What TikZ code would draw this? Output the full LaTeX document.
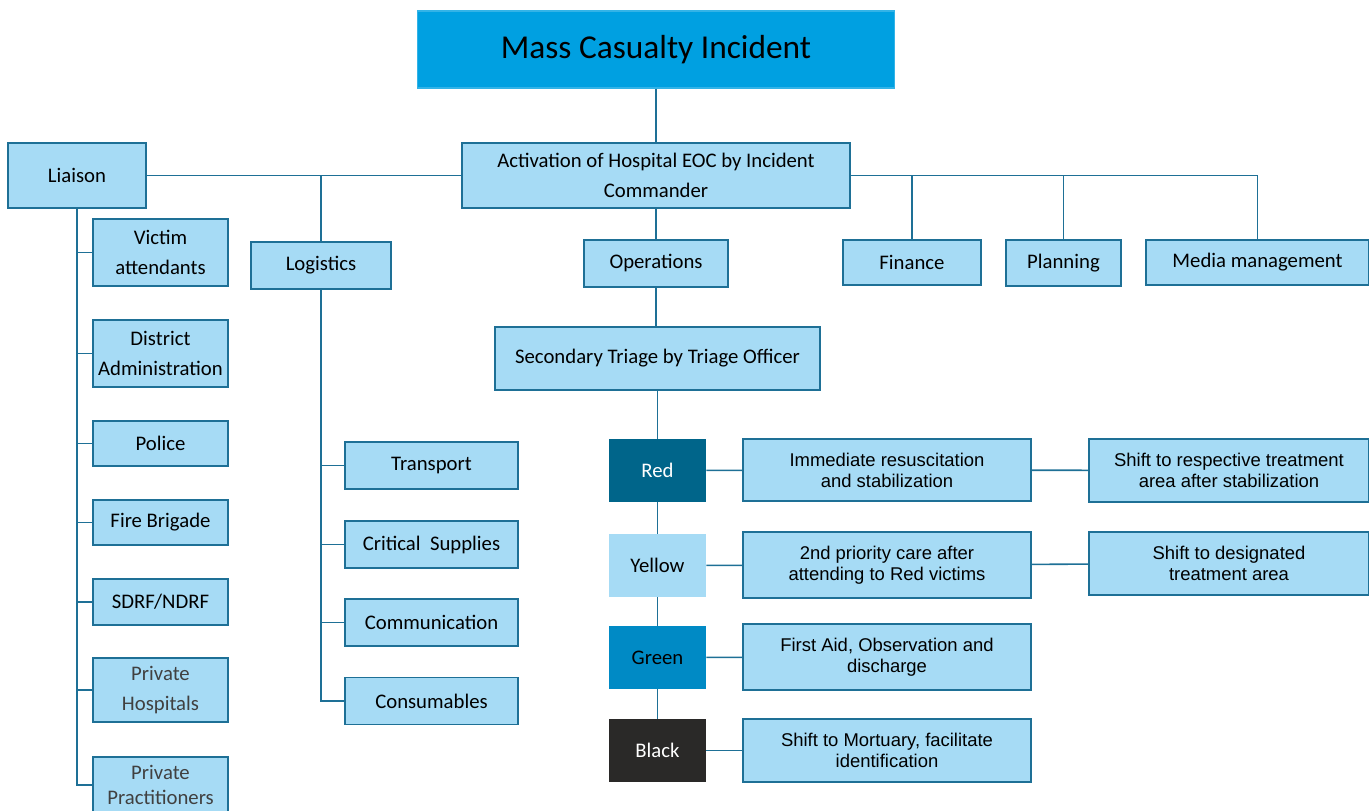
\documentclass[tikz,border=0pt]{standalone}
\usepackage{fontspec}
\usepackage{xcolor}
\usepackage{tikz}
\setmainfont{Carlito}
\newfontfamily\arialfont{Liberation Sans}

\definecolor{boxfill}{RGB}{166,219,245}
\definecolor{boxline}{RGB}{30,112,150}
\definecolor{topfill}{RGB}{0,160,225}
\definecolor{redfill}{RGB}{0,101,138}
\definecolor{greenfill}{RGB}{0,138,197}
\definecolor{blackfill}{RGB}{42,41,40}

\begin{document}
\begin{tikzpicture}[x=0.02cm,y=-0.02cm,
        box/.style={draw=boxline,line width=1.1pt,fill=boxfill,align=center,inner sep=0pt,
            font=\fontsize{11.8}{16.8}\selectfont},
        descbox/.style={box,font=\arialfont\fontsize{10.5}{12}\selectfont},
        tag/.style={align=center,inner sep=0pt,minimum width=1.94cm,minimum height=1.26cm,
            font=\fontsize{11.8}{16.8}\selectfont},
        link/.style={draw=boxline,line width=0.9pt}]
        \useasboundingbox (0,0) rectangle (1369,811);

        \node[draw=topfill!80!white,line width=0.6pt,fill=topfill,minimum width=9.56cm,minimum height=1.54cm,
            font=\fontsize{19}{22}\selectfont] (mci) at (656,49.5) {Mass Casualty Incident};
        \node[box,minimum width=7.76cm,minimum height=1.30cm] (eoc) at (656,175.5)
            {Activation of Hospital EOC by Incident\\Commander};

        % liaison side
        \node[box,minimum width=2.76cm,minimum height=1.30cm] (liaison) at (77,175.5) {Liaison};
        \node[box,minimum width=2.70cm,minimum height=1.34cm] (victim) at (160.5,252.5) {Victim\\attendants};
        \node[box,minimum width=2.70cm,minimum height=1.34cm] (district) at (160.5,353.5) {District\\Administration};
        \node[box,minimum width=2.70cm,minimum height=0.90cm] (police) at (160.5,443.5) {Police};
        \node[box,minimum width=2.70cm,minimum height=0.90cm] (fire) at (160.5,522.5) {Fire Brigade};
        \node[box,minimum width=2.70cm,minimum height=0.92cm] (sdrf) at (160.5,602) {SDRF/NDRF};
        \node[box,minimum width=2.70cm,minimum height=1.28cm,text=black!75] (privhosp) at (160.5,690) {Private\\Hospitals};
        \node[box,minimum width=2.70cm,minimum height=1.12cm,text=black!75] (privprac) at (160.5,785)
            {Private\\[-3pt]Practitioners};

        % logistics
        \node[box,minimum width=2.80cm,minimum height=0.94cm] (logistics) at (321,265.5) {Logistics};
        \node[box,minimum width=3.46cm,minimum height=0.94cm] (transport) at (431.5,465.5) {Transport};
        \node[box,minimum width=3.46cm,minimum height=0.94cm] (supplies) at (431.5,544.5) {Critical~~Supplies};
        \node[box,minimum width=3.46cm,minimum height=0.94cm] (comm) at (431.5,622.5) {Communication};
        \node[box,minimum width=3.46cm,minimum height=0.94cm] (consum) at (431.5,701) {Consumables};

        % second row
        \node[box,minimum width=2.88cm,minimum height=0.94cm] (operations) at (656,263.5) {Operations};
        \node[box,minimum width=2.76cm,minimum height=0.90cm] (finance) at (912,262.5) {Finance};
        \node[box,minimum width=2.30cm,minimum height=0.92cm] (planning) at (1063.5,263) {Planning};
        \node[box,minimum width=4.46cm,minimum height=0.90cm] (media) at (1257.5,262.5) {Media management};

        % triage
        \node[box,minimum width=6.50cm,minimum height=1.26cm] (triage) at (657.5,358.5) {Secondary Triage by Triage Officer};
        \node[tag,fill=redfill,text=white] (red) at (657.5,470.5) {Red};
        \node[tag,fill=boxfill] (yellow) at (657.5,565.5) {Yellow};
        \node[tag,fill=greenfill] (green) at (657.5,657.5) {Green};
        \node[tag,fill=blackfill,text=white] (black) at (657.5,750.5) {Black};

        \node[descbox,minimum width=5.76cm,minimum height=1.24cm] (immed) at (887,470) {Immediate resuscitation\\and stabilization};
        \node[descbox,minimum width=5.76cm,minimum height=1.32cm] (second) at (887,565) {2nd priority care after\\attending to Red victims};
        \node[descbox,minimum width=5.76cm,minimum height=1.32cm] (firstaid) at (887,657) {First Aid, Observation and\\discharge};
        \node[descbox,minimum width=5.76cm,minimum height=1.26cm] (mortuary) at (887,750.5) {Shift to Mortuary, facilitate\\identification};
        \node[descbox,minimum width=5.60cm,minimum height=1.26cm] (shiftresp) at (1229,470.5) {Shift to respective treatment\\area after stabilization};
        \node[descbox,minimum width=5.60cm,minimum height=1.26cm] (shiftdes) at (1229,563.5) {Shift to designated\\treatment area};

        % connectors
        \draw[link] (mci) -- (eoc);
        \draw[link] (liaison.east) -- (eoc.west);
        \draw[link] (logistics.north) -- (logistics.north |- liaison.east);
        \draw[link] (eoc.east) -- (media.north |- eoc.east) -- (media.north);
        \draw[link] (finance.north) -- (finance.north |- eoc.east);
        \draw[link] (planning.north) -- (planning.north |- eoc.east);
        \draw[link] (eoc) -- (operations);
        \draw[link] (operations.south) -- (operations.south |- triage.north);
        \draw[link] (triage.south) -- (red.north) (red) -- (yellow) (yellow) -- (green) (green) -- (black);

        \draw[link] (liaison.south) -- (liaison.south |- privprac.west) -- (privprac.west);
        \foreach \n in {victim,district,police,fire,sdrf,privhosp}
            \draw[link] (liaison.south |- \n.west) -- (\n.west);

        \draw[link] (logistics.south) -- (logistics.south |- consum.west) -- (consum.west);
        \foreach \n in {transport,supplies,comm}
            \draw[link] (logistics.south |- \n.west) -- (\n.west);

        \draw[link] (red) -- (immed) (immed) -- (shiftresp);
        \draw[link] (yellow) -- (second) (second) -- (shiftdes);
        \draw[link] (green) -- (firstaid);
        \draw[link] (black) -- (mortuary);
\end{tikzpicture}
\end{document}
